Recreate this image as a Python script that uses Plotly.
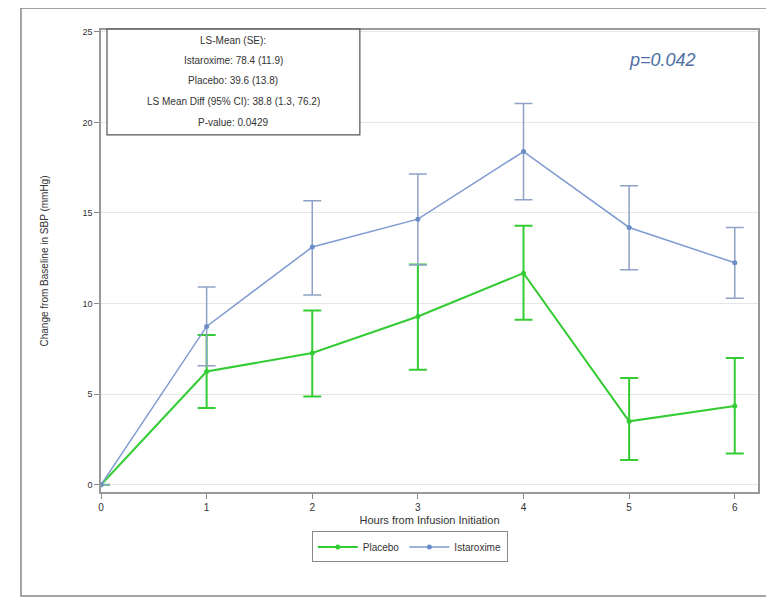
import plotly.graph_objects as go

hours = [0, 1, 2, 3, 4, 5, 6]
ista_mean = [0, 8.74, 13.12, 14.66, 18.39, 14.2, 12.25]
ista_hi = [0, 10.91, 15.67, 17.15, 21.05, 16.5, 14.2]
ista_lo = [0, 6.57, 10.47, 12.14, 15.73, 11.87, 10.3]
plac_mean = [0, 6.25, 7.27, 9.29, 11.68, 3.5, 4.35]
plac_hi = [0, 8.27, 9.62, 12.15, 14.29, 5.89, 7.0]
plac_lo = [0, 4.23, 4.87, 6.35, 9.11, 1.36, 1.72]

stats_lines = [
    "LS-Mean (SE):",
    "Istaroxime: 78.4 (11.9)",
    "Placebo: 39.6 (13.8)",
    "LS Mean Diff (95% CI): 38.8 (1.3, 76.2)",
    "P-value: 0.0429",
]
p_text = "p=0.042"

BLUE = "#7f9bd1"
BLUE_ERR = "#8ea2c6"
GREEN = "#33cc33"

fig = go.Figure()
fig.add_trace(go.Scatter(
    x=hours, y=plac_mean, name="Placebo", mode="lines+markers",
    line=dict(color=GREEN, width=2), marker=dict(color=GREEN, size=5),
    error_y=dict(type="data", symmetric=False,
                 array=[h - m for h, m in zip(plac_hi, plac_mean)],
                 arrayminus=[m - l for m, l in zip(plac_mean, plac_lo)],
                 color=GREEN, thickness=2, width=9),
))
fig.add_trace(go.Scatter(
    x=hours, y=ista_mean, name="Istaroxime", mode="lines+markers",
    line=dict(color=BLUE, width=1.5), marker=dict(color="#6a8cc8", size=5),
    error_y=dict(type="data", symmetric=False,
                 array=[h - m for h, m in zip(ista_hi, ista_mean)],
                 arrayminus=[m - l for m, l in zip(ista_mean, ista_lo)],
                 color=BLUE_ERR, thickness=1.5, width=9),
))

# stats box
fig.add_shape(type="rect", xref="paper", yref="paper",
              x0=0.0091, x1=0.394, y0=0.773, y1=1.002,
              line=dict(color="#555555", width=1.2), fillcolor="white", layer="above")
ys = [0.978, 0.935, 0.890, 0.845, 0.799]
for t, yy in zip(stats_lines, ys):
    fig.add_annotation(text=t, xref="paper", yref="paper", x=0.2015, y=yy,
                       showarrow=False, xanchor="center", yanchor="middle",
                       font=dict(family="Liberation Sans, Arial", size=10, color="#333333"))

fig.add_annotation(text="<i>" + p_text + "</i>", xref="paper", yref="paper",
                   x=0.855, y=0.935, showarrow=False, xanchor="center", yanchor="middle",
                   font=dict(family="Liberation Sans, Arial", size=18, color="#4f6fa6"))

# outer frame
fig.add_shape(type="rect", xref="paper", yref="paper",
              x0=-0.1218, x1=1.018, y0=-0.225, y1=1.0476,
              line=dict(color="#888888", width=1.5), layer="below")

fig.update_layout(
    width=766, height=593,
    margin=dict(l=93, r=16, t=22, b=109),
    paper_bgcolor="white", plot_bgcolor="white",
    font=dict(family="Liberation Sans, Arial", size=10, color="#333333"),
    showlegend=True,
    legend=dict(orientation="h", x=0.47, y=-0.119, xanchor="center", yanchor="middle",
                bordercolor="#888888", borderwidth=1, font=dict(size=10),
                itemwidth=40, tracegroupgap=0),
)
fig.update_xaxes(range=[0, 6.22], tickvals=hours, ticks="outside", ticklen=5,
                 tickcolor="#888888", showline=True, linecolor="#999999", linewidth=1.5,
                 mirror=True, showgrid=False, zeroline=False,
                 tickfont=dict(size=10, color="#333333"),
                 title=dict(text="Hours from Infusion Initiation", font=dict(size=11), standoff=5))
fig.update_yaxes(range=[-0.4, 25.1], tickvals=[0, 5, 10, 15, 20, 25], ticks="outside", ticklen=5,
                 tickcolor="#888888", showline=True, linecolor="#999999", linewidth=1.5,
                 mirror=True, showgrid=True, gridcolor="#e6e6e6", zeroline=False,
                 tickfont=dict(size=9, color="#333333"),
                 title=dict(text="Change from Baseline in SBP (mmHg)", font=dict(size=10), standoff=32))

fig.write_html("out.html")
